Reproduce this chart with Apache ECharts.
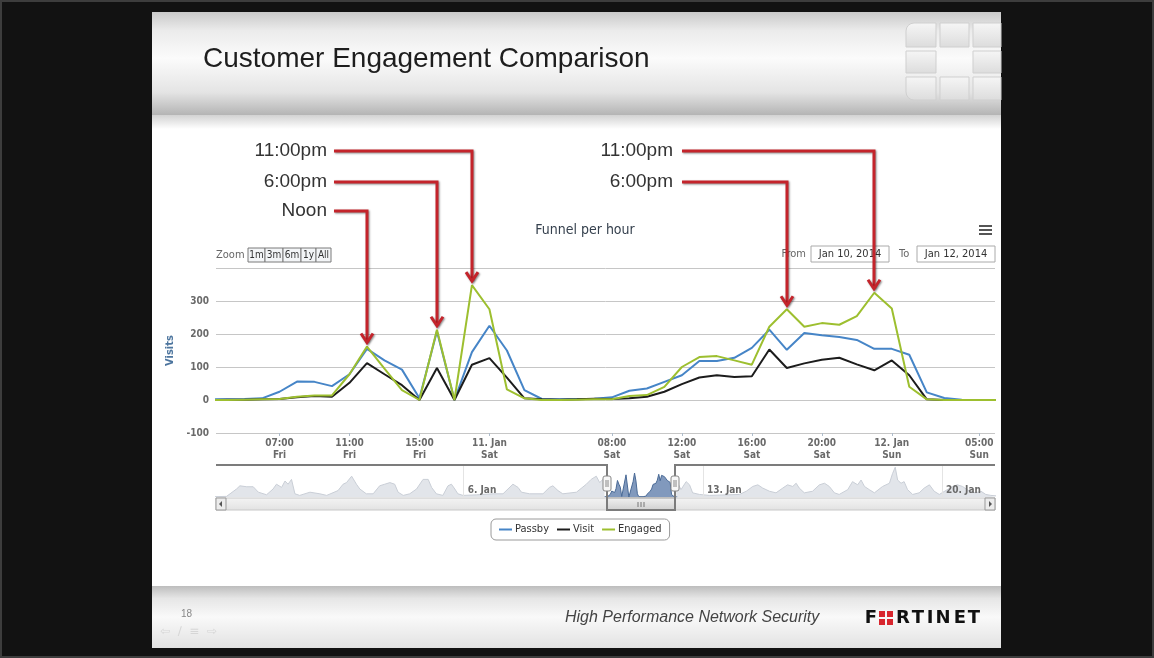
<!DOCTYPE html>
<html>
<head>
<meta charset="utf-8">
<title>Customer Engagement Comparison</title>
<script src="https://cdn.jsdelivr.net/npm/echarts@6.0.0/dist/echarts.min.js"></script>
<style>
    html, body { margin: 0; padding: 0; background: #121212; }
    #chart { width: 1154px; height: 658px; }
</style>
</head>
<body>
<div id="chart"></div>
<script>
// hour offset from Jan 10 00:00 of every point (ordinal axis, missing hours skipped)
var hours = [3, 4, 5, 6, 7, 8, 9, 10, 11, 12, 13, 14, 15, 18, 20, 23, 24, 25, 26, 27, 28, 30, 31,
    32, 33, 34, 35, 36, 37, 38, 39, 40, 41, 42, 43, 44, 45, 46, 47, 48, 49, 50, 51, 52, 53, 54];
var passby = [2, 2, 3, 5, 25, 56, 55, 42, 78, 155, 120, 92, 5, 208, 0, 145, 225, 150, 30, 3, 2, 3, 4,
    8, 28, 35, 55, 75, 118, 118, 128, 158, 213, 152, 203, 196, 191, 182, 155, 155, 137, 23, 6, 1, 0, 0];
var visit = [0, 1, 1, 2, 3, 8, 12, 10, 52, 112, 78, 45, 0, 97, 0, 107, 127, 68, 5, 2, 1, 2, 4,
    3, 5, 10, 25, 48, 68, 75, 70, 72, 153, 97, 111, 122, 128, 108, 90, 120, 75, 2, 0, 0, 0, 0];
var engaged = [0, 0, 1, 2, 3, 10, 14, 14, 78, 162, 95, 30, 0, 213, 0, 348, 275, 32, 5, 0, 0, 1, 2,
    2, 12, 15, 40, 100, 130, 133, 120, 107, 222, 275, 222, 233, 228, 254, 325, 277, 40, 2, 0, 0, 0, 0];

// x axis ticks (point index) and their labels
var xTickIndex = [4, 8, 12, 16, 23, 27, 31, 35, 39, 44];
var xTickLabels = ['07:00\nFri', '11:00\nFri', '15:00\nFri', '11. Jan\nSat', '08:00\nSat',
    '12:00\nSat', '16:00\nSat', '20:00\nSat', '12. Jan\nSun', '05:00\nSun'];

// navigator: whole period, days from Jan 6 00:00
var navDays = [-7.3, -6.94, -6.65, -6.55, -6.35, -6.16, -6.01, -5.77, -5.58, -5.48, -5.33, -5.23, -5.14,
    -5.04, -4.94, -4.8, -4.5, -4.21, -4.01, -3.68, -3.53, -3.43, -3.28, -3.14, -3.04, -2.85, -2.65,
    -2.46, -2.31, -2.16, -2.02, -1.92, -1.77, -1.58, -1.38, -1.19, -1.04, -0.94, -0.8, -0.61, -0.46,
    -0.36, -0.26, -0.17, -0.02, 0.37, 0.86, 1.15, 1.44, 1.59, 1.69, 1.93, 2.32, 2.51, 2.61, 2.76, 2.9,
    3.3, 3.59, 3.73, 3.88, 3.98, 4.12,
    6.22, 6.36, 6.51, 6.61, 6.7, 6.9, 7.19, 8.07, 8.27, 8.46, 8.61, 8.75, 8.95, 9.14, 9.34, 9.48, 9.63,
    9.73, 9.82, 9.97, 10.21, 10.41, 10.56, 10.7, 10.85, 10.99, 11.24, 11.38, 11.53, 11.63, 11.73,
    11.87, 12.02, 12.26, 12.46, 12.55, 12.63, 12.7, 12.8, 12.89, 12.99, 13.14, 13.33, 13.48, 13.63,
    13.77, 13.92, 14.31, 14.45, 14.6, 14.8, 14.99, 15.14, 15.28, 15.43, 15.6];
var navVisits = [3, 6, 75, 105, 96, 96, 45, 21, 75, 120, 90, 150, 120,
    165, 30, 15, 45, 30, 15, 60, 120, 135, 195, 120, 75, 30, 30,
    105, 120, 135, 120, 45, 15, 30, 75, 165, 165, 90, 30, 15, 105,
    120, 75, 30, 15, 20, 30, 30, 120, 90, 45, 30, 30, 90, 105, 60, 30,
    45, 120, 165, 195, 135, 180,
    159, 69, 144, 114, 39, 24, 15, 24, 54, 99, 114, 84, 54, 39, 84, 114, 99,
    129, 84, 39, 54, 114, 129, 99, 39, 24, 69, 144, 114, 159, 99,
    69, 39, 99, 129, 219, 279, 159, 129, 144, 69, 24, 39, 84, 114,
    54, 24, 99, 114, 99, 54, 39, 54, 24, 15, 10];
var navTickDays = [0, 7, 14];
var navTickLabels = ['6. Jan', '13. Jan', '20. Jan'];

var FONT = '"DejaVu Sans Condensed", "DejaVu Sans", sans-serif';
var RED = '#c4242b';
var winStart = 4.2, winEnd = 6.17;   // selected range in the navigator (days)

var myChart = echarts.init(document.getElementById('chart'));

function pairs(xs, ys) {
    var out = [];
    for (var i = 0; i < xs.length; i++) out.push([xs[i], ys[i]]);
    return out;
}
var mainIdx = hours.map(function(h, i) { return i; });
var navLeft = [], navRight = [];
for (var i = 0; i < navDays.length; i++) {
    if (navDays[i] < winStart) navLeft.push([navDays[i], navVisits[i]]);
    else navRight.push([navDays[i], navVisits[i]]);
}
var navWindow = hours.map(function(h, i) { return [4 + h / 24, passby[i]]; });

function lineSeries(name, data, color) {
    return {
        name: name,
        type: 'line',
        data: pairs(mainIdx, data),
        symbol: 'none',
        lineStyle: { color: color, width: 2 },
        itemStyle: { color: color },
        clip: true,
        animation: false
    };
}

var option = {
    animation: false,
    textStyle: { fontFamily: FONT },
    title: {
        text: 'Funnel per hour',
        left: 580,
        top: 218,
        textAlign: 'center',
        textStyle: { fontSize: 14, fontWeight: 500, color: '#36414e', fontFamily: FONT }
    },
    legend: {
        data: ['Passby', 'Visit', 'Engaged'],
        left: 491,
        top: 519,
        padding: [5, 8],
        borderColor: '#9a9a9a',
        borderWidth: 1,
        borderRadius: 5,
        itemGap: 8,
        itemWidth: 13,
        itemHeight: 2,
        icon: 'rect',
        textStyle: { fontSize: 11, color: '#333', fontFamily: FONT, padding: [0, 0, 0, -2] }
    },
    grid: [
        { left: 216, right: 159, top: 268, height: 165 },
        { left: 216, right: 159, top: 465, height: 32 }
    ],
    xAxis: [{
        type: 'value',
        gridIndex: 0,
        min: 0.37,
        max: 44.9,
        axisLine: { show: false, onZero: false },
        splitLine: { show: false },
        axisTick: { show: true, length: 3, customValues: xTickIndex, lineStyle: { color: '#aebccb' } },
        axisLabel: {
            customValues: xTickIndex,
            margin: 4,
            fontSize: 10,
            fontWeight: 'bold',
            lineHeight: 12,
            color: '#6a6a6a',
            formatter: function(v) {
                var k = xTickIndex.indexOf(Math.round(v));
                return k >= 0 ? xTickLabels[k] : '';
            }
        }
    }, {
        type: 'value',
        gridIndex: 1,
        min: -7.25,
        max: 15.55,
        z: 10,
        axisLine: { show: false, onZero: false },
        axisTick: { show: false },
        splitLine: { show: false },
        axisLabel: {
            customValues: navTickDays,
            inside: true,
            margin: 2,
            align: 'left',
            padding: [0, 0, 0, 4],
            fontSize: 10,
            fontWeight: 'bold',
            color: '#6a6a6a',
            formatter: function(v) {
                var k = navTickDays.indexOf(Math.round(v));
                return k >= 0 ? navTickLabels[k] : '';
            }
        }
    }],
    yAxis: [{
        type: 'value',
        gridIndex: 0,
        min: -100,
        max: 400,
        interval: 100,
        name: 'Visits',
        nameLocation: 'middle',
        nameGap: 40,
        nameTextStyle: { color: '#4d759e', fontSize: 11, fontWeight: 'bold', fontFamily: FONT },
        axisLine: { show: false },
        axisTick: { show: false },
        axisLabel: {
            margin: 7,
            fontSize: 10,
            fontWeight: 'bold',
            color: '#6a6a6a',
            padding: [0, 0, 8, 0],
            formatter: function(v) { return v === 400 ? '' : v; }
        },
        splitLine: { lineStyle: { color: '#c6c6c6', width: 1 } }
    }, {
        type: 'value',
        gridIndex: 1,
        min: 0,
        max: 300,
        show: false,
        splitLine: { show: false }
    }],
    series: [
        lineSeries('Passby', passby, '#4685c7'),
        lineSeries('Visit', visit, '#1c1c1c'),
        lineSeries('Engaged', engaged, '#9dbf2f'),
        {
            name: 'navLeft', type: 'line', xAxisIndex: 1, yAxisIndex: 1, data: navLeft,
            symbol: 'none', lineStyle: { color: '#c9ced6', width: 1 },
            areaStyle: { color: '#e2e5ea', opacity: 1 },
            markLine: {
                silent: true, symbol: 'none', label: { show: false },
                lineStyle: { color: '#e4e4e4', type: 'solid', width: 1 },
                data: navTickDays.map(function(d) { return { xAxis: d }; })
            }
        },
        {
            name: 'navRight', type: 'line', xAxisIndex: 1, yAxisIndex: 1, data: navRight,
            symbol: 'none', lineStyle: { color: '#c9ced6', width: 1 },
            areaStyle: { color: '#e2e5ea', opacity: 1 }
        },
        {
            name: 'navWindow', type: 'line', xAxisIndex: 1, yAxisIndex: 1, data: navWindow,
            symbol: 'none', lineStyle: { color: '#4a6a96', width: 1 },
            areaStyle: { color: '#8199bd', opacity: 1 }
        }
    ]
};
myChart.setOption(option);

// ---- graphic helpers ----
function rect(x, y, w, h, style, z, r) {
    return { type: 'rect', z: z || 0, silent: true, shape: { x: x, y: y, width: w, height: h, r: r || 0 }, style: style };
}
function txt(x, y, text, font, fill, align, z) {
    return {
        type: 'text', z: z || 10, silent: true,
        style: {
            x: x, y: y, text: text, font: font, fill: fill,
            align: align || 'left', textAlign: align || 'left',
            verticalAlign: 'middle', textVerticalAlign: 'middle'
        }
    };
}
function line(points, stroke, width, z, shadow) {
    var st = { stroke: stroke, lineWidth: width, fill: null, lineJoin: 'miter' };
    if (shadow) {
        st.shadowColor = 'rgba(0,0,0,0.45)';
        st.shadowBlur = 2;
        st.shadowOffsetX = 1;
        st.shadowOffsetY = 1;
    }
    return { type: 'polyline', z: z || 10, silent: true, shape: { points: points }, style: st };
}
function vgrad(stops) {
    return { type: 'linear', x: 0, y: 0, x2: 0, y2: 1, colorStops: stops };
}

// 标注箭头
function arrow(label, labelRight, labelY, lineX, idx, value) {
    var p = myChart.convertToPixel({ xAxisIndex: 0, yAxisIndex: 0 }, [idx, value]);
    var tipX = Math.round(p[0]), tipY = p[1] - 3;
    return [
        txt(labelRight, labelY, label, '19px "Liberation Sans", Arial, sans-serif', '#333', 'right', 50),
        line([[lineX, labelY], [tipX, labelY], [tipX, tipY - 2]], RED, 3, 50, true),
        line([[tipX - 6, tipY - 10], [tipX, tipY - 1], [tipX + 6, tipY - 10]], RED, 3, 50, true)
    ];
}

var g = [];
// slide
g.push(rect(0, 0, 1154, 658, { fill: '#121212', stroke: '#3d3d3d', lineWidth: 4 }, -20));
g.push(rect(152, 12, 849, 636, { fill: '#ffffff' }, -19));
g.push(rect(152, 12, 849, 103, { fill: vgrad([
    { offset: 0, color: '#c9c9c9' }, { offset: 0.18, color: '#ebebeb' }, { offset: 0.45, color: '#fbfbfb' },
    { offset: 0.78, color: '#e4e4e4' }, { offset: 1, color: '#b4b4b4' }]) }, -18));
g.push(rect(152, 115, 849, 14, { fill: vgrad([{ offset: 0, color: '#d2d2d2' }, { offset: 1, color: '#ffffff' }]) }, -18));
g.push(rect(152, 586, 849, 62, { fill: vgrad([
    { offset: 0, color: '#bdbdbd' }, { offset: 0.2, color: '#e6e6e6' }, { offset: 0.5, color: '#f9f9f9' },
    { offset: 1, color: '#e2e2e2' }]) }, -18));
// logo grid top right
var lg = { fill: vgrad([{ offset: 0, color: '#f6f6f6' }, { offset: 1, color: '#dcdcdc' }]), stroke: '#cfcfcf', lineWidth: 1 };
g.push(rect(906, 23, 30, 24, lg, -17, [8, 0, 0, 0]));
g.push(rect(940, 23, 29, 24, lg, -17));
g.push(rect(973, 23, 28, 24, lg, -17));
g.push(rect(906, 51, 30, 22, lg, -17));
g.push(rect(973, 51, 28, 22, lg, -17));
g.push(rect(906, 77, 30, 23, lg, -17, [0, 0, 0, 8]));
g.push(rect(940, 77, 29, 23, lg, -17));
g.push(rect(973, 77, 28, 23, lg, -17));
// title and footer
g.push(txt(203, 59, 'Customer Engagement Comparison', '28px "Liberation Sans", Arial, sans-serif', '#1e1e1e', 'left', 5));
g.push(txt(181, 614, '18', '10px "Liberation Sans", Arial, sans-serif', '#888', 'left', 5));
g.push(txt(565, 618, 'High Performance Network Security', 'italic 16px "Liberation Sans", Arial, sans-serif', '#444', 'left', 5));
var logoFont = 'bold 18px "DejaVu Sans", sans-serif';
g.push(txt(871, 618, 'F', logoFont, '#111', 'center', 5));
g.push(rect(879, 611, 6, 6, { fill: '#d8262e' }, 5));
g.push(rect(887, 611, 6, 6, { fill: '#d8262e' }, 5));
g.push(rect(879, 619, 6, 6, { fill: '#d8262e' }, 5));
g.push(rect(887, 619, 6, 6, { fill: '#d8262e' }, 5));
var logoLetters = ['R', 'T', 'I', 'N', 'E', 'T'];
var logoX = [903, 918, 930, 943, 960, 974];
logoLetters.forEach(function(c, k) { g.push(txt(logoX[k], 618, c, logoFont, '#111', 'center', 5)); });
g.push(txt(160, 632, '\u21e6  \u2215  \u2261  \u21e8', '12px "DejaVu Sans", sans-serif', '#d6d6d6', 'left', 5));

// range selector
g.push(txt(216, 255, 'Zoom', '11px ' + FONT, '#666', 'left'));
var zb = [[248, 17, '1m'], [265, 18, '3m'], [283, 18, '6m'], [301, 15, '1y'], [316, 15, 'All']];
zb.forEach(function(b) {
    g.push(rect(b[0], 248, b[1], 14, { fill: '#f3f5f7', stroke: '#7a7a7a', lineWidth: 1 }, 8));
    g.push(txt(b[0] + b[1] / 2, 255, b[2], '10px ' + FONT, '#333', 'center'));
});
g.push(txt(806, 254, 'From', '11px ' + FONT, '#666', 'right'));
g.push(rect(811, 246, 78, 16, { fill: '#fff', stroke: '#aaa', lineWidth: 1 }, 8));
g.push(txt(850, 254, 'Jan 10, 2014', '11px ' + FONT, '#333', 'center'));
g.push(txt(899, 254, 'To', '11px ' + FONT, '#666', 'left'));
g.push(rect(917, 246, 78, 16, { fill: '#fff', stroke: '#aaa', lineWidth: 1 }, 8));
g.push(txt(956, 254, 'Jan 12, 2014', '11px ' + FONT, '#333', 'center'));
// export menu icon
g.push(line([[979, 226], [992, 226]], '#555', 2));
g.push(line([[979, 230], [992, 230]], '#555', 2));
g.push(line([[979, 234], [992, 234]], '#555', 2));

// navigator outline, handles and scrollbar
var ws = Math.round(myChart.convertToPixel({ xAxisIndex: 1, yAxisIndex: 1 }, [winStart, 0])[0]);
var we = Math.round(myChart.convertToPixel({ xAxisIndex: 1, yAxisIndex: 1 }, [winEnd, 0])[0]);
g.push(rect(216, 498, 779, 12, { fill: vgrad([{ offset: 0, color: '#f4f4f4' }, { offset: 1, color: '#e2e2e2' }]), stroke: '#c8c8c8', lineWidth: 1 }, 8));
g.push(rect(216, 498, 10, 12, { fill: '#ececec', stroke: '#999', lineWidth: 1 }, 9));
g.push({ type: 'polygon', z: 10, silent: true, shape: { points: [[222, 501], [222, 507], [219, 504]] }, style: { fill: '#555' } });
g.push(rect(985, 498, 10, 12, { fill: '#ececec', stroke: '#999', lineWidth: 1 }, 9));
g.push({ type: 'polygon', z: 10, silent: true, shape: { points: [[989, 501], [989, 507], [992, 504]] }, style: { fill: '#555' } });
g.push(rect(ws, 498, we - ws, 12, { fill: vgrad([{ offset: 0, color: '#f2f2f2' }, { offset: 1, color: '#cfcfcf' }]), stroke: '#999', lineWidth: 1 }, 9));
var mid = Math.round((ws + we) / 2);
g.push(line([[mid - 3, 502], [mid - 3, 507]], '#777', 1, 10));
g.push(line([[mid, 502], [mid, 507]], '#777', 1, 10));
g.push(line([[mid + 3, 502], [mid + 3, 507]], '#777', 1, 10));
g.push(line([[216, 465], [ws, 465], [ws, 510], [we, 510], [we, 465], [995, 465]], '#7c7c7c', 2, 11));
[ws, we].forEach(function(x) {
    g.push(rect(x - 4, 476, 8, 15, { fill: '#f7f7f7', stroke: '#888', lineWidth: 1 }, 12, 2));
    g.push(line([[x - 1, 480], [x - 1, 487]], '#888', 1, 13));
    g.push(line([[x + 1, 480], [x + 1, 487]], '#888', 1, 13));
});

// 标注：Noon / 6:00pm / 11:00pm
g = g.concat(arrow('11:00pm', 327, 151, 334, 15, engaged[15]));
g = g.concat(arrow('6:00pm', 327, 182, 334, 13, engaged[13]));
g = g.concat(arrow('Noon', 327, 211, 334, 9, engaged[9]));
g = g.concat(arrow('11:00pm', 673, 151, 682, 38, engaged[38]));
g = g.concat(arrow('6:00pm', 673, 182, 682, 33, engaged[33]));

myChart.setOption({ graphic: g });
</script>
</body>
</html>
